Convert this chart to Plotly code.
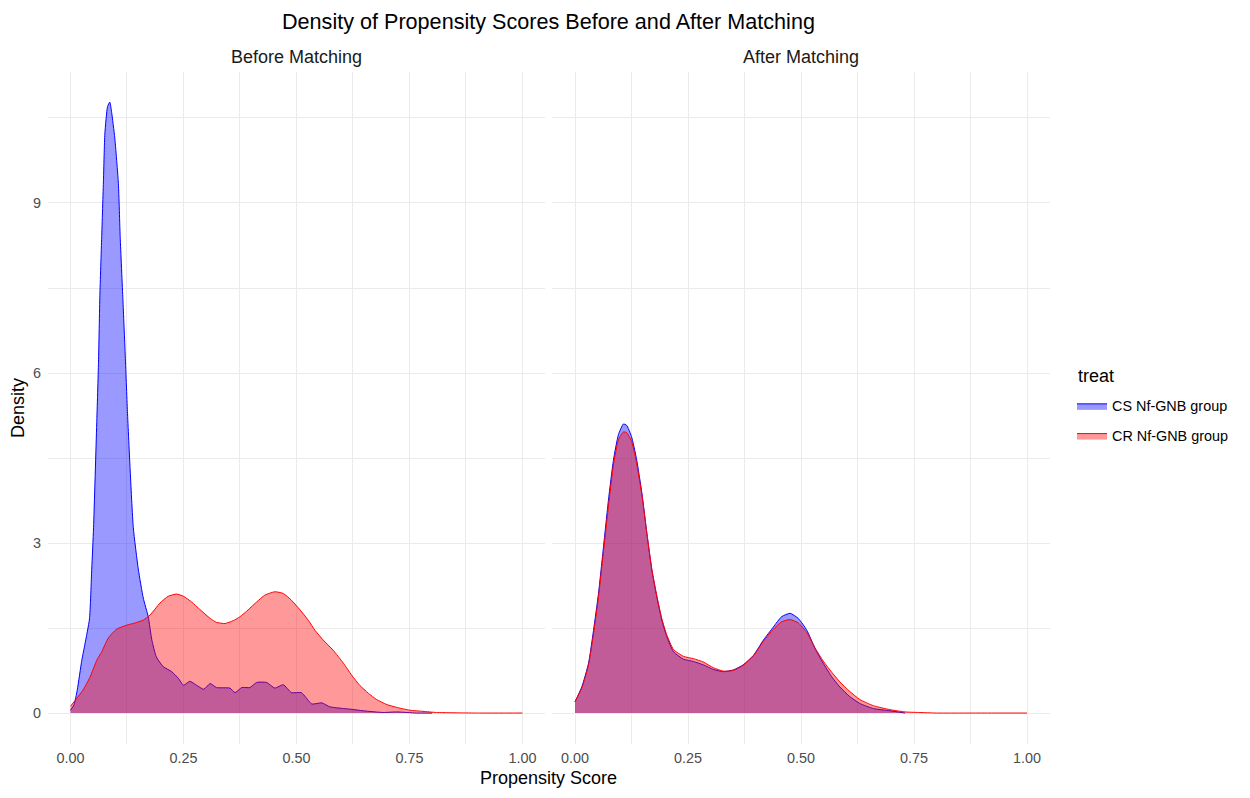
import plotly.graph_objects as go

# ---------------- data ----------------
group_names = ["CS Nf-GNB group", "CR Nf-GNB group"]
panel_titles = ["Before Matching", "After Matching"]
x_tickvals = [0, 0.25, 0.5, 0.75, 1.0]
x_ticktext = ["0.00", "0.25", "0.50", "0.75", "1.00"]
y_tickvals = [0, 3, 6, 9]

before_cs_x = [0.0, 0.008, 0.015, 0.025, 0.032, 0.042, 0.047, 0.051, 0.058, 0.062, 0.065, 0.069,
               0.073, 0.076, 0.082, 0.087, 0.091, 0.098, 0.106, 0.110, 0.116, 0.121, 0.126, 0.132,
               0.139, 0.150, 0.161, 0.172, 0.180, 0.190, 0.205, 0.224, 0.239, 0.250, 0.264, 0.279,
               0.295, 0.309, 0.323, 0.353, 0.364, 0.379, 0.397, 0.412, 0.434, 0.452, 0.471, 0.489,
               0.511, 0.534, 0.556, 0.574, 0.604, 0.618, 0.648, 0.692, 0.722, 0.765, 0.800]
before_cs_y = [0.05, 0.15, 0.41, 0.93, 1.22, 1.66, 2.54, 3.27, 5.10, 6.19, 7.37, 8.39,
               9.41, 10.22, 10.70, 10.78, 10.6, 10.15, 9.34, 8.39, 7.29, 6.34, 5.32, 4.29,
               3.27, 2.54, 2.03, 1.70, 1.29, 0.99, 0.82, 0.73, 0.61, 0.49, 0.56, 0.49,
               0.42, 0.52, 0.45, 0.44, 0.36, 0.45, 0.45, 0.54, 0.54, 0.44, 0.50, 0.36,
               0.36, 0.16, 0.18, 0.11, 0.08, 0.07, 0.04, 0.01, 0.02, 0.0, 0.0]

before_cr_x = [0.0, 0.015, 0.028, 0.043, 0.058, 0.069, 0.084, 0.102, 0.124, 0.143, 0.161, 0.176,
               0.198, 0.216, 0.235, 0.250, 0.268, 0.286, 0.309, 0.323, 0.342, 0.360, 0.375, 0.393,
               0.412, 0.430, 0.452, 0.471, 0.489, 0.508, 0.526, 0.541, 0.559, 0.581, 0.604, 0.622,
               0.640, 0.659, 0.677, 0.700, 0.722, 0.751, 0.780, 0.810, 0.900, 1.0]
before_cr_y = [0.12, 0.27, 0.41, 0.63, 0.93, 1.08, 1.33, 1.48, 1.55, 1.59, 1.64, 1.73,
               1.94, 2.06, 2.10, 2.06, 1.96, 1.83, 1.67, 1.60, 1.58, 1.63, 1.70, 1.82,
               1.96, 2.08, 2.14, 2.11, 1.99, 1.82, 1.64, 1.46, 1.29, 1.11, 0.88, 0.67,
               0.49, 0.35, 0.24, 0.15, 0.10, 0.05, 0.03, 0.01, 0.0, 0.0]

after_cs_x = [0.0, 0.015, 0.030, 0.041, 0.052, 0.063, 0.074, 0.085, 0.096, 0.107, 0.114, 0.125,
              0.136, 0.148, 0.159, 0.170, 0.181, 0.192, 0.203, 0.218, 0.240, 0.262, 0.284, 0.306,
              0.328, 0.350, 0.372, 0.395, 0.417, 0.439, 0.457, 0.476, 0.494, 0.513, 0.531, 0.549,
              0.568, 0.586, 0.608, 0.630, 0.660, 0.697, 0.730]
after_cs_y = [0.20, 0.46, 0.88, 1.46, 2.11, 2.93, 3.76, 4.46, 4.91, 5.10, 5.08, 4.88,
              4.49, 3.88, 3.17, 2.52, 2.05, 1.64, 1.35, 1.08, 0.95, 0.91, 0.85, 0.77,
              0.73, 0.76, 0.85, 1.02, 1.29, 1.52, 1.70, 1.76, 1.67, 1.46, 1.14, 0.88,
              0.64, 0.46, 0.29, 0.17, 0.08, 0.04, 0.0]

after_cr_x = [0.0, 0.015, 0.030, 0.041, 0.052, 0.063, 0.074, 0.085, 0.096, 0.107, 0.114, 0.125,
              0.136, 0.148, 0.159, 0.170, 0.181, 0.192, 0.203, 0.218, 0.240, 0.262, 0.284, 0.306,
              0.328, 0.350, 0.372, 0.395, 0.417, 0.439, 0.457, 0.476, 0.494, 0.513, 0.531, 0.549,
              0.568, 0.586, 0.608, 0.630, 0.660, 0.697, 0.730, 0.760, 0.800, 0.900, 1.0]
after_cr_y = [0.20, 0.44, 0.85, 1.40, 2.05, 2.85, 3.65, 4.38, 4.82, 4.96, 4.95, 4.80,
              4.42, 3.85, 3.17, 2.54, 2.07, 1.67, 1.38, 1.12, 1.00, 0.96, 0.90, 0.80,
              0.74, 0.75, 0.84, 1.01, 1.27, 1.48, 1.61, 1.65, 1.59, 1.42, 1.15, 0.92,
              0.72, 0.55, 0.38, 0.24, 0.13, 0.06, 0.02, 0.01, 0.0, 0.0, 0.0]

# ---------------- figure ----------------
OFF = 8                      # page body margin of the browser
W, H = 1250 - 2 * OFF, 798 - 2 * OFF
FONT = "Liberation Sans, Arial, sans-serif"
line_cols = ["#0000FF", "#FF0000"]
fill_cols = ["rgba(0,0,255,0.4)", "rgba(255,0,0,0.4)"]

fig = go.Figure()
panels = [
    ("x", "y", [(before_cs_x, before_cs_y), (before_cr_x, before_cr_y)]),
    ("x2", "y2", [(after_cs_x, after_cs_y), (after_cr_x, after_cr_y)]),
]
for pi, (xa, ya, series) in enumerate(panels):
    for gi, (xs, ys) in enumerate(series):
        fig.add_trace(go.Scatter(
            x=xs, y=ys, xaxis=xa, yaxis=ya, mode="lines",
            line=dict(color=line_cols[gi], width=1, shape="spline", smoothing=0.5),
            fill="tozeroy", fillcolor=fill_cols[gi],
            name=group_names[gi], legendgroup=group_names[gi],
            showlegend=(pi == 0), hoverinfo="x+y",
        ))


def px_x(p):
    return (p - OFF) / W


def px_y(p):
    return 1 - (p - OFF) / H


dom_y = [px_y(743.6), px_y(71.5)]
grid = "#EBEBEB"
TICKFONT = dict(family=FONT, size=14.4, color="#4D4D4D")
xcommon = dict(range=[-0.05, 1.05], tickvals=x_tickvals, ticktext=x_ticktext,
               showgrid=True, gridcolor=grid, gridwidth=1, zeroline=False,
               showline=False, ticks="", fixedrange=True, ticklabelstandoff=4,
               tickfont=TICKFONT,
               minor=dict(tickvals=[0.125, 0.375, 0.625, 0.875], showgrid=True,
                          gridcolor=grid, gridwidth=0.6))
ycommon = dict(range=[-0.539, 11.32], tickvals=y_tickvals,
               showgrid=True, gridcolor=grid, gridwidth=1, zeroline=False,
               showline=False, ticks="", fixedrange=True, domain=dom_y,
               ticklabelstandoff=6, tickfont=TICKFONT,
               minor=dict(tickvals=[1.5, 4.5, 7.5, 10.5], showgrid=True,
                          gridcolor=grid, gridwidth=0.6))


def ann(text, x, y, size, color="black", angle=0):
    return dict(text=text, x=px_x(x), y=px_y(y), xref="paper", yref="paper",
                xanchor="center", yanchor="middle", showarrow=False, textangle=angle,
                font=dict(family=FONT, size=size, color=color))


fig.update_layout(
    width=W, height=H,
    margin=dict(l=0, r=0, t=0, b=0),
    paper_bgcolor="white", plot_bgcolor="white",
    font=dict(family=FONT, color="black"),
    xaxis=dict(domain=[px_x(47.9), px_x(545.0)], anchor="y", **xcommon),
    xaxis2=dict(domain=[px_x(552.4), px_x(1049.6)], anchor="y2", **xcommon),
    yaxis=dict(anchor="x", showticklabels=True, **ycommon),
    yaxis2=dict(anchor="x2", showticklabels=False, **ycommon),
    legend=dict(
        font=dict(family=FONT, size=14.4, color="black"),
        x=px_x(1072), y=px_y(390), xanchor="left", yanchor="top",
        bgcolor="rgba(0,0,0,0)", tracegroupgap=8,
    ),
    annotations=[
        ann("Density of Propensity Scores Before and After Matching", 548, 21, 21.6),
        ann(panel_titles[0], 296, 57, 18, "#1A1A1A"),
        ann(panel_titles[1], 801, 57, 18, "#1A1A1A"),
        ann("Propensity Score", 548, 778, 18),
        ann("Density", 18, 408, 18, angle=-90),
        dict(text="treat", x=px_x(1076), y=px_y(376), xref="paper", yref="paper",
             xanchor="left", yanchor="middle", showarrow=False,
             font=dict(family=FONT, size=18, color="black")),
    ],
)

fig.write_html("out.html")
